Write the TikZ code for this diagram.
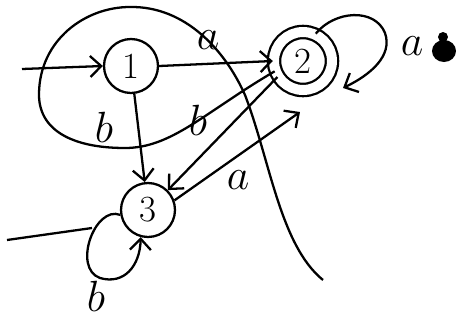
\documentclass[tikz,border=0pt]{standalone}
\usetikzlibrary{arrows.meta}

\begin{document}
\begin{tikzpicture}[x=0.02cm,y=-0.02cm,
      >={Straight Barb[length=2.2mm,width=4.2mm]},
      st/.style={circle,draw,line width=1.3pt,minimum size=1.08cm,
        inner sep=0pt,font=\fontsize{21}{23}\selectfont},
      acc/.style={st,double,double distance=0.2cm,minimum size=1.16cm},
      edge/.style={draw,line width=1.3pt,->},
      wire/.style={draw,line width=1.3pt},
      lab/.style={font=\fontsize{24}{26}\selectfont,inner sep=0pt}
    ]
    \useasboundingbox (0,0) rectangle (461,322);
    % the three states
    \node[st] (s1) at (131,66) {1};
    \node[acc] (s2) at (303,61) {2};
    \node[st] (s3) at (148,210) {3};
    % free ends
    \coordinate (start) at (22,69);
    \coordinate (tip2) at (300,112);
    \coordinate (loopend) at (343,88);
    \coordinate (tail) at (323,280);
    \coordinate (in3) at (7,240);
    \coordinate (in3e) at (92,228);
    % transitions
    \draw[edge] (start) -- (s1.west);
    \draw[edge] (s1.east) -- (s2.west);
    \draw[edge] (s1) -- (s3);
    \draw[edge] (s2.212) -- (s3.45);
    \draw[edge] (s3.20) -- (tip2);
    \draw[edge] (s2.65) .. controls (335,10) and (375,8) .. (385,33)
      .. controls (393,56) and (370,75) .. (loopend);
    \draw[edge] (s3.190) .. controls (95,205) and (72,268) .. (100,278)
      .. controls (124,285) and (140,266) .. (s3.255);
    \draw[wire] (in3) -- (in3e);
    % the long curve round state 1
    \draw[wire] (s2.200) .. controls (205,112) and (172,148) .. (125,148)
      .. controls (72,148) and (38,130) .. (39,93)
      .. controls (40,40) and (85,7) .. (130,7)
      .. controls (185,6) and (225,50) .. (245,95)
      .. controls (270,160) and (280,245) .. (tail);
    % labels
    \node[lab] (la1) at (208,40) {$a$};
    \node[lab] (lb1) at (104,127) {$b$};
    \node[lab] (lb2) at (198,120) {$b$};
    \node[lab] (la2) at (238,180) {$a$};
    \node[lab] (lb3) at (96,296) {$b$};
    \node[lab] (la3) at (412,46) {$a$};
    \fill (444,51) ellipse (12 and 11);
    \fill (443,37) circle (5);
  \end{tikzpicture}
\end{document}
